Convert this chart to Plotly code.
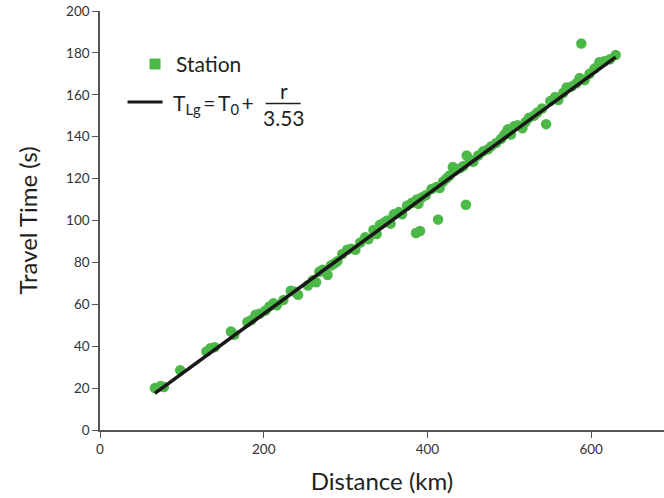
import plotly.graph_objects as go

# Station data (distance km, travel time s)
dist_km = [67, 74, 78, 98, 130, 135, 140, 160, 164, 180, 185, 190, 195, 202, 207, 212, 216, 224,
           233, 238, 242, 254, 260, 264, 268, 272, 278, 282, 286, 290, 296, 302, 307, 312, 318,
           324, 328, 334, 338, 342, 347, 351, 355, 359, 365, 369, 375, 381, 387, 389, 393, 398,
           386, 391, 413, 447, 405, 411, 415, 419, 423, 427, 431, 434, 440, 444, 448, 452, 456,
           462, 468, 474, 478, 484, 490, 494, 498, 502, 506, 510, 516, 520, 524, 530, 534, 540,
           545, 550, 556, 560, 566, 570, 576, 582, 586, 592, 598, 604, 610, 616, 623, 630, 588]
travel_s = [20, 21, 20.5, 28.5, 37.5, 39, 39.5, 47, 45.5, 51.5, 52.5, 55, 55.5, 57, 59, 60.5, 59.5, 62,
            66.5, 66, 64.5, 69, 71.5, 70.5, 75.5, 76.5, 74, 78.5, 79.5, 80.5, 84, 86, 86.5, 86, 89.5,
            92, 91, 95.5, 93.5, 98, 99, 100, 98.5, 103, 104, 103, 107, 108.5, 110, 108, 111, 112,
            94, 95, 100.5, 107.5, 115, 116, 115.5, 118.5, 120, 121.5, 125.5, 124, 125, 126, 131, 129, 128,
            131, 133, 134, 135.5, 137, 139, 141, 143.5, 141, 145, 145.5, 144, 147, 149, 150, 151.5, 153.5,
            146, 157, 159, 157.5, 161, 163.5, 164, 165.5, 168, 167, 170, 172.5, 175.5, 176, 177, 179, 184.5]

# Fit line endpoints
fit_x = [67, 630]
fit_y = [17.5, 178]

x_ticks = [0, 200, 400, 600]
y_ticks = [0, 20, 40, 60, 80, 100, 120, 140, 160, 180, 200]

GREEN = "#4cb848"
TXT = "#231f20"
FONT = "Lato"

fig = go.Figure()
fig.add_trace(go.Scatter(x=dist_km, y=travel_s, mode="markers",
                         marker=dict(color=GREEN, size=10.5, line=dict(width=0)),
                         showlegend=False, hoverinfo="skip"))
fig.add_trace(go.Scatter(x=fit_x, y=fit_y, mode="lines",
                         line=dict(color="#1a1718", width=3.5), showlegend=False))

# plot area in pixels: x 100.5..664, y 11..430
def px(x):
    return (x - 100.5) / 563.5

def py(y):
    return (430 - y) / 419

shapes = [
    dict(type="rect", xref="paper", yref="paper", x0=px(150), x1=px(161), y0=py(69.5), y1=py(58.5),
         fillcolor=GREEN, line=dict(width=0)),
    dict(type="line", xref="paper", yref="paper", x0=px(128), x1=px(163), y0=py(102), y1=py(102),
         line=dict(color="#1a1718", width=3)),
    dict(type="line", xref="paper", yref="paper", x0=px(266), x1=px(301), y0=py(103.5), y1=py(103.5),
         line=dict(color=TXT, width=1.5)),
]
annots = [
    dict(text="Station", x=px(174), y=py(64), xanchor="left", yanchor="middle", size=21),
    dict(text="T<sub>Lg</sub>\u2009=\u2009T<sub>0</sub>\u2009+", x=px(171), y=py(104),
         xanchor="left", yanchor="middle", size=21),
    dict(text="r", x=px(284), y=py(91), xanchor="center", yanchor="middle", size=21),
    dict(text="3.53", x=px(284), y=py(118), xanchor="center", yanchor="middle", size=21),
]
for a in annots:
    s = a.pop("size")
    a.update(xref="paper", yref="paper", showarrow=False, font=dict(family=FONT, size=s, color=TXT))

axis_common = dict(showline=True, linecolor="#555555", linewidth=1.5, ticks="outside",
                   ticklen=6, tickcolor="#555555", tickwidth=1.2, showgrid=False, zeroline=False,
                   tickfont=dict(family=FONT, size=13.5, color="#333333"))

fig.update_layout(
    width=664, height=498,
    margin=dict(l=100, r=0, t=11, b=68),
    paper_bgcolor="white", plot_bgcolor="white",
    xaxis=dict(range=[0, 689], tickvals=x_ticks, title=dict(text="Distance (km)", standoff=17,
               font=dict(family=FONT, size=24, color=TXT)), **axis_common),
    yaxis=dict(range=[0, 200], tickvals=y_ticks, title=dict(text="Travel Time (s)", standoff=22,
               font=dict(family=FONT, size=24, color=TXT)), **axis_common),
    shapes=shapes, annotations=annots,
)

fig.write_html("out.html")
